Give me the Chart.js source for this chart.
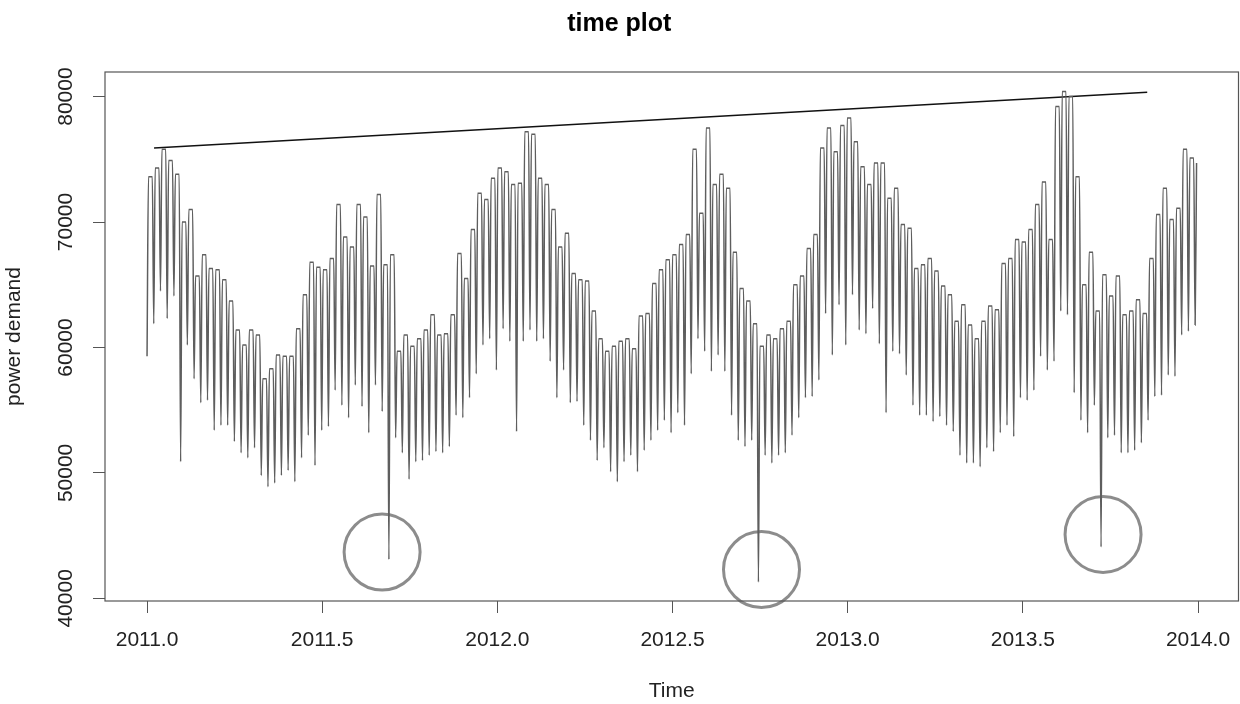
<!doctype html>
<html lang="en">
<head>
  <meta charset="utf-8" />
  <title>time plot</title>
  <script src="https://cdn.jsdelivr.net/npm/chart.js"></script>
  <style>
    body{margin:0;background:#fff}
    #plot{display:block}
  </style>
</head>
<body>
  <canvas id="plot" width="1240" height="704"></canvas>
  <script>
    // weekly weekend trough / weekday level, 2011.0 -> 2014.0
    const weekLow = [
      59300,61900,64500,62300,64100,50900,60200,57500,55600,55800,
      53400,53800,53800,52500,51600,51200,52000,49800,48900,49200,
      49800,50200,49300,51200,53000,50600,53400,53700,56600,55400,
      54400,57000,55300,53200,57000,54900,43100,52800,51600,49500,
      50900,51000,51400,51700,51600,52100,54600,54400,56000,57900,
      60200,60700,58200,61500,60500,53300,60500,61400,60500,60700,
      58900,56000,58200,55600,55700,53800,52600,51000,52000,50100,
      49300,50900,51400,50100,51800,52600,53400,54200,53200,54800,
      53800,57900,60700,59700,58100,59400,58100,54600,52600,52100,
      52600,41300,51400,50800,51400,51600,53000,54400,56000,56100,
      57400,62700,59400,63400,60200,64200,61400,61100,63100,60300,
      54800,59700,59500,57800,55400,54600,54600,54100,54500,53800,
      53300,51400,50800,50800,50500,52000,51700,53200,53800,52900,
      56000,55800,56600,59300,58200,58900,62900,62600,56400,54200,
      53200,55400,44100,52800,53000,51600,51600,51800,52400,54200,
      56100,56200,57800,57700,61000,61300,61800
    ];
    const weekHigh = [
      73600,74300,75800,74900,73800,70000,71000,65700,67400,66300,
      66200,65400,63700,61400,60200,61400,61000,57500,58300,59400,
      59300,59300,61500,64200,66800,66400,66200,67100,71400,68800,
      68000,71400,70400,66500,72200,66600,67400,59700,61000,60100,
      60700,61400,62600,61000,61100,62600,67500,65500,69400,72300,
      71800,73500,74300,74000,73000,73100,77200,77000,73500,73000,
      71000,68000,69100,65900,65400,65300,62900,60700,59700,60100,
      60500,60700,59900,62500,62700,65100,66200,67000,67400,68200,
      69000,75800,70700,77500,73000,73800,72700,67600,64700,63700,
      61900,60100,61000,60700,61500,62100,65000,65700,67900,69000,
      75900,77500,75600,77700,78300,76400,74400,73000,74700,74700,
      71900,72700,69800,69500,66300,66600,67100,66100,64900,64200,
      62100,63400,61800,60700,62100,63300,63000,66700,67100,68600,
      68400,69400,71400,73200,68600,79200,80400,80000,73600,65000,
      67600,62900,65800,64100,65700,62600,62900,63800,62700,67100,
      70600,72700,70200,71100,75800,75100,74700
    ];
    // hand drawn trend line and circled outliers
    const trendX = [2011.02, 2013.855];
    const trendY = [75900, 80350];
    const circleX = [2011.671, 2012.754, 2013.729];
    const circleY = [43700, 42300, 45100];
    const xTicks = [2011.0, 2011.5, 2012.0, 2012.5, 2013.0, 2013.5, 2014.0];
    const yTicks = [40000, 50000, 60000, 70000, 80000];

    const START = 2011, DAYS = 365, LAST_DAY = 1095;

    // weekend trough at start of week, weekday plateau after it
    const series = [];
    weekLow.forEach((lo, k) => {
      [[0, lo], [1.5, weekHigh[k]], [5.5, weekHigh[k]]].forEach(([d, v]) => {
        const day = k * 7 + d;
        if (day <= LAST_DAY) series.push({x: START + day / DAYS, y: v});
      });
    });
    const trend = trendX.map((x, i) => ({x, y: trendY[i]}));
    const circles = circleX.map((x, i) => ({x, y: circleY[i]}));

    const FONT = "'Liberation Sans', Arial, Helvetica, sans-serif";

    // R style box around the plot region
    const boxPlugin = {
      id: 'box',
      afterDatasetsDraw(chart){
        const a = chart.chartArea, ctx = chart.ctx;
        ctx.save();
        ctx.strokeStyle = '#555';
        ctx.lineWidth = 1.2;
        ctx.strokeRect(a.left, a.top, a.right - a.left, a.bottom - a.top);
        ctx.restore();
      }
    };

    new Chart(document.getElementById('plot'), {
      type: 'scatter',
      data: {
        datasets: [
          {data: series, showLine: true, borderColor: '#5e5e5e', borderWidth: 1.5,
           pointRadius: 0, cubicInterpolationMode: 'monotone'},
          {data: trend, showLine: true, borderColor: '#111', borderWidth: 1.5, pointRadius: 0},
          {data: circles, showLine: false, pointRadius: 38, borderWidth: 3,
           pointBorderColor: 'rgba(120,120,120,0.85)', pointBackgroundColor: 'rgba(0,0,0,0)', clip: false}
        ]
      },
      options: {
        responsive: false,
        animation: false,
        devicePixelRatio: 1,
        layout: {autoPadding: false, padding: {left: 0, right: 1.5, top: 0, bottom: 0}},
        plugins: {
          legend: {display: false},
          tooltip: {enabled: false},
          title: {display: true, text: 'time plot', color: '#000',
                  font: {family: FONT, size: 25, weight: 'bold'},
                  padding: {top: 9, bottom: 33}}
        },
        scales: {
          x: {
            type: 'linear', min: 2010.880, max: 2014.1156,
            afterBuildTicks: s => { s.ticks = xTicks.map(v => ({value: v})); },
            afterFit: s => { s.height = 103; s.paddingLeft = 0; s.paddingRight = 0; },
            ticks: {autoSkip: false, maxRotation: 0, padding: 14.4, color: '#222',
                    font: {family: FONT, size: 21}, callback: v => Number(v).toFixed(1)},
            grid: {drawOnChartArea: false, drawTicks: true, tickLength: 12, color: '#555'},
            border: {display: false},
            title: {display: true, text: 'Time', color: '#222', padding: {top: 0, bottom: 0.4},
                    font: {family: FONT, size: 21}}
          },
          y: {
            min: 39790, max: 81960,
            afterBuildTicks: s => { s.ticks = yTicks.map(v => ({value: v})); },
            afterFit: s => { s.width = 105; s.paddingTop = 0; s.paddingBottom = 0; },
            ticks: {autoSkip: false, minRotation: 90, maxRotation: 90, crossAlign: 'center',
                    padding: -2.7, color: '#222', font: {family: FONT, size: 21},
                    callback: v => String(v)},
            grid: {drawOnChartArea: false, drawTicks: true, tickLength: 12, color: '#555'},
            border: {display: false},
            title: {display: true, text: 'power demand', color: '#222', padding: {top: 2, bottom: 0},
                    font: {family: FONT, size: 21}}
          }
        }
      },
      plugins: [boxPlugin]
    });
  </script>
</body>
</html>
